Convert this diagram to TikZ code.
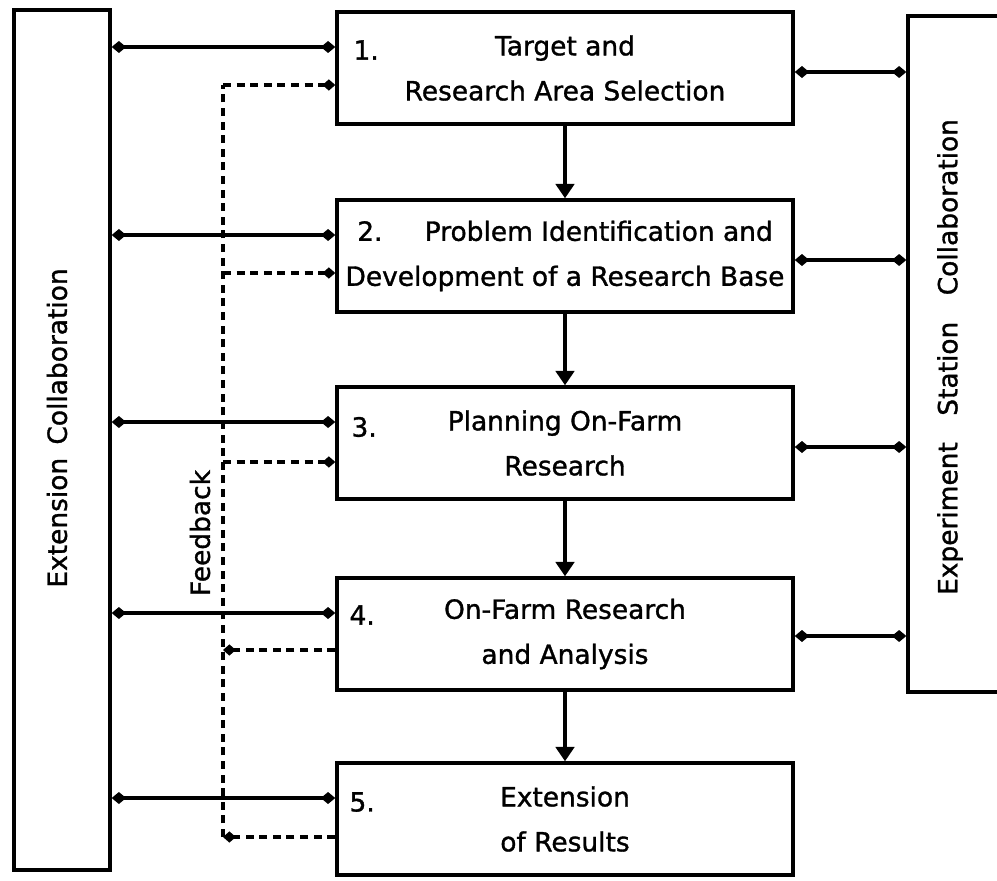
\documentclass[tikz,border=0pt]{standalone}
\usepackage{fontspec}
\setmainfont{DejaVu Sans}[FakeBold=1.2]
\usetikzlibrary{arrows.meta,calc}

\begin{document}
\begin{tikzpicture}[
    x=0.025cm, y=-0.025cm,
    every node/.style={font=\fontsize{18.8}{32}\selectfont},
    box/.style={
        draw,
        line width=2.4pt,
        minimum width=11.4cm,
        minimum height=2.8cm,
        align=center,
        inner sep=0pt
    },
    sidebox/.style={
        draw,
        line width=2.4pt,
        minimum width=2.4cm,
        inner sep=0pt
    },
    num/.style={anchor=west, inner sep=0pt},
    vlabel/.style={rotate=90, inner sep=0pt},
    twoway/.style={
        line width=2.4pt,
        {Kite[length=0.36cm,width=0.3cm,inset=0.18cm]}-{Kite[length=0.36cm,width=0.3cm,inset=0.18cm]}
    },
    flow/.style={line width=2.6pt, -{Triangle[length=0.36cm,width=0.46cm]}},
    fback/.style={line width=2.2pt, dash pattern=on 0.2cm off 0.14cm}
]
\useasboundingbox (0,0) rectangle (997,880);

% side columns
\node[sidebox, minimum height=21.5cm] (ext) at (62,440) {};
\node[sidebox, minimum width=2.45cm, minimum height=16.9cm] (exp) at (957,354) {};
\node[vlabel] (extlabel) at (57,428) {Extension\enspace Collaboration};
\node[vlabel] (explabel) at (950,357) {Experiment\quad Station\quad Collaboration};

% the five stages
\node[box] (b1) at (565,68) {Target and\\Research Area Selection};
\node[box] (b2) at (565,256) {2.\hspace{1.6em}Problem Identification and\\Development of a Research Base};
\node[box] (b3) at (565,443) {Planning On-Farm\\Research};
\node[box] (b4) at (565,634) {On-Farm Research\\and Analysis};
\node[box] (b5) at (565,819) {Extension\\of Results};

\node[num] (n1) at ($(b1.west)+(18,-18)$) {1.};
\node[num] (n3) at ($(b3.west)+(16,-16)$) {3.};
\node[num] (n4) at ($(b4.west)+(14,-19)$) {4.};
\node[num] (n5) at ($(b5.west)+(14,-17)$) {5.};

\draw[flow] (b1) -- (b2);
\draw[flow] (b2) -- (b3);
\draw[flow] (b3) -- (b4);
\draw[flow] (b4) -- (b5);

% extension links
\coordinate (l1) at ($(b1.west)+(0,-21)$);
\coordinate (l2) at ($(b2.west)+(0,-21)$);
\coordinate (l3) at ($(b3.west)+(0,-21)$);
\coordinate (l4) at ($(b4.west)+(0,-21)$);
\coordinate (l5) at ($(b5.west)+(0,-21)$);
\draw[twoway] (ext.east |- l1) -- (l1);
\draw[twoway] (ext.east |- l2) -- (l2);
\draw[twoway] (ext.east |- l3) -- (l3);
\draw[twoway] (ext.east |- l4) -- (l4);
\draw[twoway] (ext.east |- l5) -- (l5);

% experiment station links
\coordinate (r1) at ($(b1.east)+(0,4)$);
\coordinate (r2) at ($(b2.east)+(0,4)$);
\coordinate (r3) at ($(b3.east)+(0,4)$);
\coordinate (r4) at ($(b4.east)+(0,2)$);
\draw[twoway] (r1) -- (r1 -| exp.west);
\draw[twoway] (r2) -- (r2 -| exp.west);
\draw[twoway] (r3) -- (r3 -| exp.west);
\draw[twoway] (r4) -- (r4 -| exp.west);

% feedback loop
\coordinate (fb) at (223,0);
\coordinate (d1) at ($(b1.west)+(0,17)$);
\coordinate (d2) at ($(b2.west)+(0,17)$);
\coordinate (d3) at ($(b3.west)+(0,19)$);
\coordinate (d4) at ($(b4.west)+(0,16)$);
\coordinate (d5) at ($(b5.west)+(0,18)$);
\draw[fback] (fb |- d5) -- (fb |- d1);
\draw[fback, -{Kite[length=0.32cm,width=0.28cm,inset=0.16cm]}] (fb |- d1) -- (d1);
\draw[fback, -{Kite[length=0.32cm,width=0.28cm,inset=0.16cm]}] (fb |- d2) -- (d2);
\draw[fback, -{Kite[length=0.32cm,width=0.28cm,inset=0.16cm]}] (fb |- d3) -- (d3);
\draw[fback, -{Kite[length=0.32cm,width=0.28cm,inset=0.16cm]}] (d4) -- (fb |- d4);
\draw[fback, -{Kite[length=0.32cm,width=0.28cm,inset=0.16cm]}] (d5) -- (fb |- d5);
\node[vlabel] (fblabel) at (200,533) {Feedback};

\end{tikzpicture}
\end{document}
